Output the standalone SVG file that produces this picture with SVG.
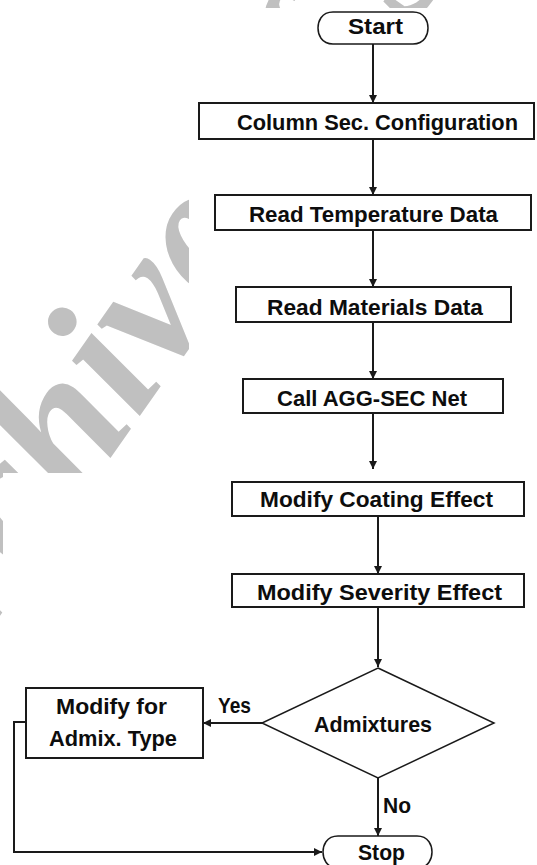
<svg xmlns="http://www.w3.org/2000/svg" width="537" height="865" viewBox="0 0 537 865">
  <defs>
    <style>
      .box { fill: #ffffff; stroke: #1a1a1a; stroke-width: 2; }
      .term { fill: #ffffff; stroke: #1a1a1a; stroke-width: 1.5; }
      .dia { fill: #ffffff; stroke: #1a1a1a; stroke-width: 1.5; }
      .lbl { font-family: "Liberation Sans", Arial, sans-serif; font-weight: bold; font-size: 22px; fill: #0d0d0d; }
      .wire { fill: none; stroke: #1a1a1a; stroke-width: 2; }
      .wm { font-family: "Liberation Serif", "Times New Roman", serif; font-style: italic; font-weight: bold; font-size: 190px; fill: #c0c0c0; }
    </style>
    <marker id="arrow" markerUnits="userSpaceOnUse" markerWidth="8" markerHeight="8" refX="8" refY="4" orient="auto">
      <path d="M0,0 L8,4 L0,8 Z" fill="#1a1a1a"/>
    </marker>
    <clipPath id="wmClip">
      <rect x="0" y="0" width="537" height="8"/>
      <rect x="0" y="0" width="189" height="473"/>
      <rect x="0" y="0" width="3" height="865"/>
    </clipPath>
  </defs>

  <rect x="0" y="0" width="537" height="865" fill="#ffffff"/>

  <!-- background watermark -->
  <g id="watermark" clip-path="url(#wmClip)">
    <text class="wm" transform="translate(-87,740) rotate(-55)">Archive of SID</text>
  </g>

  <!-- connectors -->
  <g id="connectors">
    <line class="wire" x1="373" y1="44" x2="373" y2="103" marker-end="url(#arrow)"/>
    <line class="wire" x1="373" y1="139" x2="373" y2="195" marker-end="url(#arrow)"/>
    <line class="wire" x1="373" y1="230" x2="373" y2="287" marker-end="url(#arrow)"/>
    <line class="wire" x1="373" y1="322" x2="373" y2="379" marker-end="url(#arrow)"/>
    <line class="wire" x1="373" y1="413" x2="373" y2="469" marker-end="url(#arrow)"/>
    <line class="wire" x1="378" y1="516" x2="378" y2="574" marker-end="url(#arrow)"/>
    <line class="wire" x1="378" y1="607" x2="378" y2="667" marker-end="url(#arrow)"/>
    <line class="wire" x1="262" y1="723" x2="203" y2="723" marker-end="url(#arrow)"/>
    <line class="wire" x1="378" y1="778" x2="378" y2="836" marker-end="url(#arrow)"/>
    <polyline class="wire" points="26,722 14,722 14,852 322,852" marker-end="url(#arrow)"/>
    <text class="lbl" x="218" y="713" textLength="33" lengthAdjust="spacingAndGlyphs">Yes</text>
    <text class="lbl" x="383" y="813" textLength="28" lengthAdjust="spacingAndGlyphs">No</text>
  </g>

  <g id="start">
    <path class="term" d="M333,12 H413 C425,12 428,22 428,28 C428,34 425,44 413,44 H333 C321,44 318,34 318,28 C318,22 321,12 333,12 Z"/>
    <text class="lbl" x="348" y="34" textLength="55" lengthAdjust="spacingAndGlyphs">Start</text>
  </g>

  <g id="column-config">
    <rect class="box" x="199" y="103" width="335" height="36"/>
    <text class="lbl" x="237" y="130" textLength="281" lengthAdjust="spacingAndGlyphs">Column Sec. Configuration</text>
  </g>

  <g id="read-temperature">
    <rect class="box" x="215" y="195" width="316" height="35"/>
    <text class="lbl" x="249" y="222" textLength="249" lengthAdjust="spacingAndGlyphs">Read Temperature Data</text>
  </g>

  <g id="read-materials">
    <rect class="box" x="236" y="287" width="275" height="35"/>
    <text class="lbl" x="267" y="315" textLength="216" lengthAdjust="spacingAndGlyphs">Read Materials Data</text>
  </g>

  <g id="call-agg-sec">
    <rect class="box" x="243" y="379" width="260" height="34"/>
    <text class="lbl" x="277" y="406" textLength="190" lengthAdjust="spacingAndGlyphs">Call AGG-SEC Net</text>
  </g>

  <g id="modify-coating">
    <rect class="box" x="232" y="482" width="292" height="34"/>
    <text class="lbl" x="260" y="507" textLength="233" lengthAdjust="spacingAndGlyphs">Modify Coating Effect</text>
  </g>

  <g id="modify-severity">
    <rect class="box" x="232" y="574" width="292" height="33"/>
    <text class="lbl" x="257" y="600" textLength="245" lengthAdjust="spacingAndGlyphs">Modify Severity Effect</text>
  </g>

  <g id="admixtures">
    <polygon class="dia" points="378,668 494,723 378,778 262,723"/>
    <text class="lbl" x="314" y="732" textLength="118" lengthAdjust="spacingAndGlyphs">Admixtures</text>
  </g>

  <g id="modify-admix">
    <rect class="box" x="26" y="688" width="177" height="70"/>
    <text class="lbl" x="56" y="714" textLength="111" lengthAdjust="spacingAndGlyphs">Modify for</text>
    <text class="lbl" x="49" y="746" textLength="128" lengthAdjust="spacingAndGlyphs">Admix. Type</text>
  </g>

  <g id="stop">
    <path class="term" d="M338,836 H417 C429,836 432,846 432,852 C432,858 429,868 417,868 H338 C326,868 323,858 323,852 C323,846 326,836 338,836 Z"/>
    <text class="lbl" x="358" y="860" textLength="47" lengthAdjust="spacingAndGlyphs">Stop</text>
  </g>
</svg>
